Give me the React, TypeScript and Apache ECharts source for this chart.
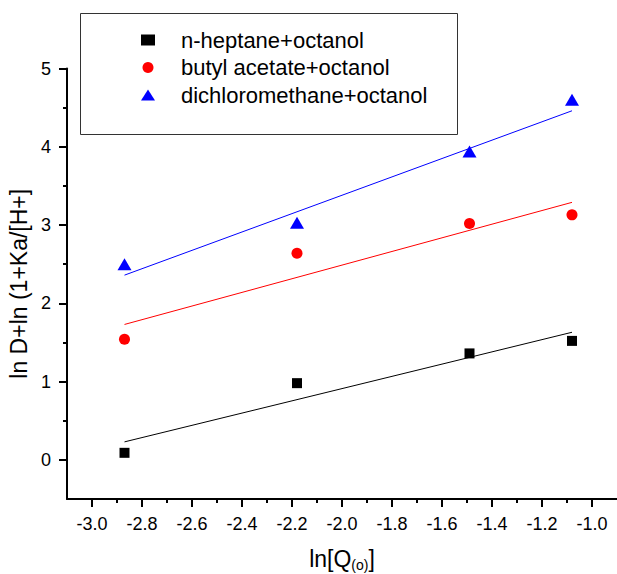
import React, { useEffect, useRef } from "react";
import * as echarts from "echarts";

const seriesNames = ["n-heptane+octanol", "butyl acetate+octanol", "dichloromethane+octanol"];
const seriesColors = ["#000000", "#ff0000", "#0000ff"];
const seriesSymbols = ["rect", "circle", "triangle"];

const xValues = [-2.87, -2.18, -1.49, -1.08];
const heptane = [0.09, 0.98, 1.36, 1.52];
const butylAcetate = [1.54, 2.64, 3.02, 3.13];
const dichloromethane = [2.5, 3.03, 3.94, 4.6];

const fitX = [-2.87, -1.08];
const heptaneFit = [0.23, 1.63];
const butylAcetateFit = [1.73, 3.29];
const dichloromethaneFit = [2.36, 4.46];

const xTickLabels = [-3.0, -2.8, -2.6, -2.4, -2.2, -2.0, -1.8, -1.6, -1.4, -1.2, -1.0];
const yTickLabels = [0, 1, 2, 3, 4, 5];

const FONT = "'Liberation Sans', Arial, sans-serif";

function pairs(xs: number[], ys: number[]) {
  return xs.map((x, i) => [x, ys[i]]);
}

export default function App() {
  const ref = useRef<HTMLDivElement>(null);
  useEffect(() => {
    const chart = echarts.init(ref.current!, null, { renderer: "svg" });
    const pointSets = [heptane, butylAcetate, dichloromethane];
    const fitSets = [heptaneFit, butylAcetateFit, dichloromethaneFit];
    const symbolSizes: any[] = [10, 11, [14, 12]];
    const scatterSeries = pointSets.map((ys, i) => ({
      type: "scatter",
      name: seriesNames[i],
      data: pairs(xValues, ys),
      symbol: seriesSymbols[i],
      symbolSize: symbolSizes[i],
      itemStyle: { color: seriesColors[i], opacity: 1 },
      z: 2,
    }));
    const lineSeries = fitSets.map((ys, i) => ({
      type: "line",
      name: seriesNames[i] + " fit",
      data: pairs(fitX, ys),
      showSymbol: false,
      symbol: "none",
      lineStyle: { color: seriesColors[i], width: 1 },
      z: 3,
    }));
    const axisCommon = {
      axisLine: { show: true, onZero: false, lineStyle: { color: "#000", width: 2 } },
      splitLine: { show: false },
    };
    chart.setOption({
      animation: false,
      backgroundColor: "#fff",
      textStyle: { fontFamily: FONT },
      grid: { left: 67, right: 0, top: 68.5, bottom: 75, outerBoundsMode: "none" },
      legend: {
        orient: "vertical",
        left: 136,
        top: 24,
        itemWidth: 14,
        itemHeight: 11,
        itemGap: 5.5,
        selectedMode: false,
        data: seriesNames,
        itemStyle: { opacity: 1 },
        textStyle: { fontSize: 22, lineHeight: 22, color: "#000", fontFamily: FONT, padding: [0, 0, 0, 21] },
      },
      graphic: [
        {
          type: "rect",
          shape: { x: 80.5, y: 13.5, width: 377, height: 121 },
          style: { fill: "none", stroke: "#333", lineWidth: 1 },
          silent: true,
        },
      ],
      xAxis: {
        type: "value",
        min: -3.1,
        max: -0.9,
        minInterval: 0.2,
        maxInterval: 0.2,
        ...axisCommon,
        axisTick: { show: true, length: 8, lineStyle: { color: "#000", width: 2 }, customValues: xTickLabels },
        minorTick: { show: true, splitNumber: 2, length: 4, lineStyle: { color: "#000", width: 2 } },
        axisLabel: {
          customValues: xTickLabels,
          margin: 16,
          fontSize: 18,
          color: "#000",
          fontFamily: FONT,
          formatter: (v: number) => (v < -3.05 || v > -0.95 ? "" : v.toFixed(1)),
        },
        name: "ln[Q{sub|(o)}]",
        nameLocation: "middle",
        nameGap: 48,
        nameMoveOverlap: false,
        nameTextStyle: {
          fontSize: 23,
          lineHeight: 23,
          color: "#000",
          fontFamily: FONT,
          rich: {
            sub: { fontSize: 14, lineHeight: 10, padding: [12, 0, 0, 0], color: "#000", fontFamily: FONT },
          },
        },
      },
      yAxis: {
        type: "value",
        min: -0.5,
        max: 5,
        minInterval: 1,
        maxInterval: 1,
        ...axisCommon,
        axisTick: { show: true, length: 8, lineStyle: { color: "#000", width: 2 }, customValues: yTickLabels },
        minorTick: { show: true, splitNumber: 2, length: 4, lineStyle: { color: "#000", width: 2 } },
        axisLabel: {
          customValues: yTickLabels,
          margin: 16,
          fontSize: 18,
          color: "#000",
          fontFamily: FONT,
          formatter: (v: number) => (Math.abs(v - Math.round(v)) > 0.01 ? "" : String(Math.round(v))),
        },
        name: "ln D+ln (1+Ka/[H+]",
        nameLocation: "middle",
        nameGap: 30,
        nameRotate: 90,
        nameTextStyle: { fontSize: 23, color: "#000", fontFamily: FONT },
      },
      series: [...scatterSeries, ...lineSeries],
    });
    return () => chart.dispose();
  }, []);
  return (
    <div
      ref={ref}
      style={{ position: "absolute", left: 0, top: 0, width: 617, height: 574, background: "#fff" }}
    />
  );
}
